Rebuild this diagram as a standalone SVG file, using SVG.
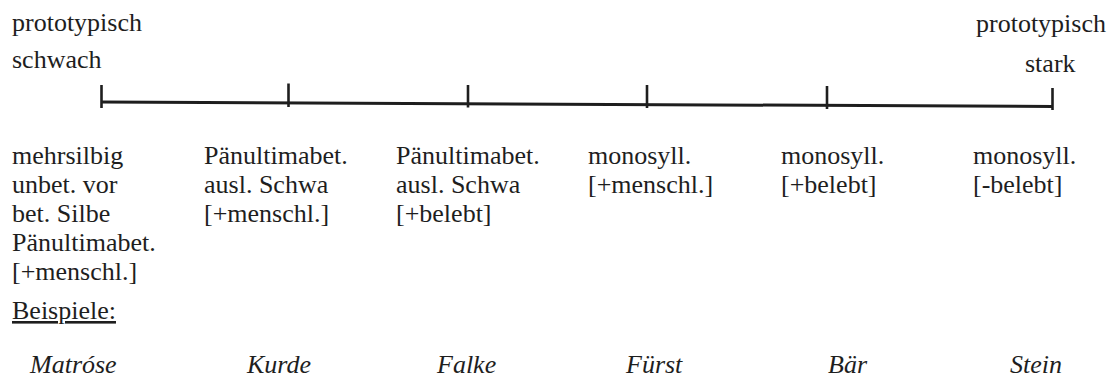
<svg xmlns="http://www.w3.org/2000/svg" width="1115" height="379" viewBox="0 0 1115 379" font-family="Liberation Serif, Times New Roman, serif" font-size="26">
<style>
text{fill:#1e1e1e}
.ex{font-style:italic}
.tick{stroke:#1e1e1e;stroke-width:2.6;fill:none}
.axis{stroke:#1e1e1e;stroke-width:3;fill:none}
</style>
<rect width="1115" height="379" fill="#ffffff"/>
<g id="connectors">
<line class="axis" x1="101" y1="102" x2="1053" y2="106.5"/>
</g>
<g id="pole-weak">
<text x="12" y="31">prototypisch</text>
<text x="12" y="68">schwach</text>
</g>
<g id="pole-strong">
<text x="976" y="32">prototypisch</text>
<text x="1025" y="72">stark</text>
</g>
<g id="node-1">
<line class="tick" x1="101.5" y1="85" x2="101.5" y2="108"/>
<text x="12" y="164">mehrsilbig</text>
<text x="12" y="193">unbet. vor</text>
<text x="12" y="222">bet. Silbe</text>
<text x="12" y="251">Pänultimabet.</text>
<text x="12" y="280">[+menschl.]</text>
<text x="30" y="373" class="ex">Matróse</text>
</g>
<g id="beispiele">
<text x="12" y="319" text-decoration="underline">Beispiele:</text>
</g>
<g id="node-2">
<line class="tick" x1="288.5" y1="83.5" x2="288.5" y2="107"/>
<text x="204" y="164">Pänultimabet.</text>
<text x="204" y="193">ausl. Schwa</text>
<text x="204" y="222">[+menschl.]</text>
<text x="247" y="373" class="ex">Kurde</text>
</g>
<g id="node-3">
<line class="tick" x1="468" y1="85" x2="468" y2="107.5"/>
<text x="396" y="164">Pänultimabet.</text>
<text x="396" y="193">ausl. Schwa</text>
<text x="396" y="222">[+belebt]</text>
<text x="437" y="373" class="ex">Falke</text>
</g>
<g id="node-4">
<line class="tick" x1="647" y1="85" x2="647" y2="108"/>
<text x="588" y="164">monosyll.</text>
<text x="588" y="193">[+menschl.]</text>
<text x="626" y="373" class="ex">Fürst</text>
</g>
<g id="node-5">
<line class="tick" x1="827" y1="86" x2="827" y2="109"/>
<text x="781" y="164">monosyll.</text>
<text x="781" y="193">[+belebt]</text>
<text x="828" y="373" class="ex">Bär</text>
</g>
<g id="node-6">
<line class="tick" x1="1052.5" y1="88" x2="1052.5" y2="110"/>
<text x="973" y="164">monosyll.</text>
<text x="973" y="193">[-belebt]</text>
<text x="1010" y="373" class="ex">Stein</text>
</g>
</svg>
